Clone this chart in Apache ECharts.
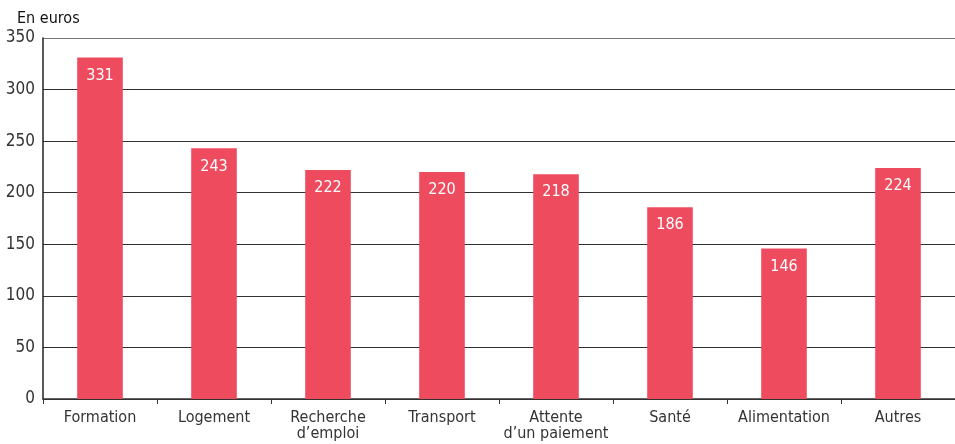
<!DOCTYPE html>
<html>
<head>
<meta charset="utf-8">
<script src="https://cdn.jsdelivr.net/npm/echarts@6/dist/echarts.min.js"></script>
<style>
html, body { margin: 0; padding: 0; background: #fff; }
#chart { width: 955px; height: 444px; }
</style>
</head>
<body>
<div id="chart"></div>
<script>
var categories = ['Formation', 'Logement', 'Recherche\nd\u2019emploi', 'Transport', 'Attente\nd\u2019un paiement', 'Santé', 'Alimentation', 'Autres'];
var values = [331, 243, 222, 220, 218, 186, 146, 224];

var font = '"Liberation Sans Narrow", "DejaVu Sans Condensed", sans-serif';
var chart = echarts.init(document.getElementById('chart'));
chart.setOption({
    animation: false,
    textStyle: { fontFamily: font },
    title: {
        text: 'En euros',
        left: 12, top: 6,
        textStyle: { fontSize: 16, fontWeight: 'normal', color: '#111', fontFamily: font }
    },
    grid: { left: 43, right: 0, top: 38, bottom: 45 },
    xAxis: {
        type: 'category',
        data: categories,
        axisLine: { lineStyle: { color: '#333', width: 1.5 } },
        axisTick: { show: true, length: 5, alignWithLabel: false, lineStyle: { color: '#333' } },
        axisLabel: { color: '#333', fontSize: 16, lineHeight: 16, margin: 11, interval: 0 }
    },
    yAxis: {
        type: 'value',
        min: 0, max: 350, interval: 50,
        axisLine: { show: true, lineStyle: { color: '#222', width: 1.5 } },
        axisTick: { show: false },
        axisLabel: { color: '#333', fontSize: 17, margin: 8 },
        splitLine: {
            lineStyle: { color: ['#333', '#333', '#333', '#333', '#333', '#333', '#333', '#777'], width: 1 }
        }
    },
    series: [{
        type: 'bar',
        data: values,
        barWidth: '40%',
        itemStyle: { color: '#EE4B5F' },
        label: {
            show: true,
            position: 'insideTop',
            distance: 10,
            color: '#fff',
            fontSize: 16,
            fontFamily: font
        }
    }]
});
</script>
</body>
</html>
